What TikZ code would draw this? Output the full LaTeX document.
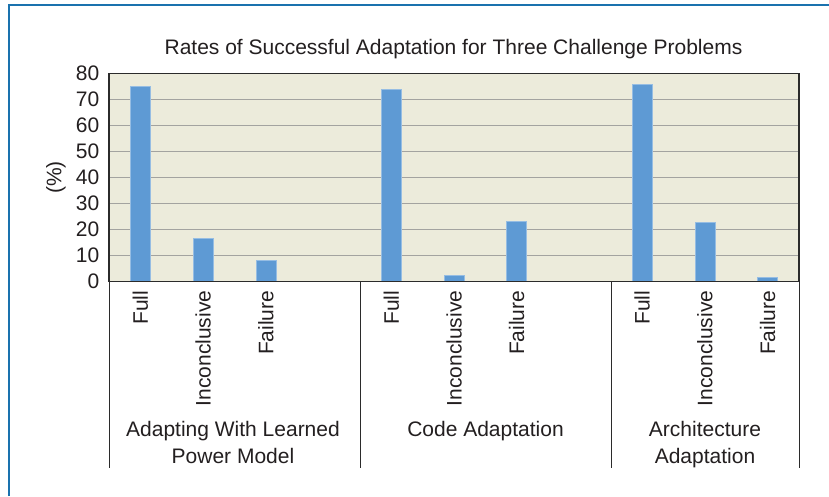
\documentclass[tikz,border=0pt]{standalone}
\usepackage{fontspec}
\setmainfont{Liberation Sans}
\definecolor{frameblue}{HTML}{1A72AE}
\definecolor{plotbg}{HTML}{ECEBDB}
\definecolor{gridgray}{HTML}{A3A3A0}
\definecolor{barblue}{HTML}{5E9AD4}
\definecolor{axisdark}{HTML}{2B2B2B}
\definecolor{txt}{HTML}{231F20}
\begin{document}
\begin{tikzpicture}[x=1pt,y=-1pt,
  lbl/.style={font=\fontsize{21}{26.6}\selectfont, text=txt, inner sep=0pt},
  ticklbl/.style={lbl, anchor=east},
  catlbl/.style={lbl, rotate=90, anchor=east},
  grplbl/.style={lbl, align=center, anchor=north},
  gridline/.style={gridgray, line width=1.3pt},
  bar/.style={fill=barblue, draw=barblue!65!white, line width=0.6pt},
  axisline/.style={axisdark, line width=1.5pt},
  sepline/.style={axisdark, line width=1pt}]
\useasboundingbox (0,0) rectangle (829,496);
\fill[white] (0,0) rectangle (829,496);
\draw[frameblue, line width=2.5pt] (9,496) -- (9,5) -- (829,5);
% title
\node[lbl, anchor=base] (title) at (453.5,54.3) {Rates of Successful Adaptation for Three Challenge Problems};
% plot area
\fill[plotbg] (109,73.5) rectangle (799,281.5);
\foreach \v in {1,...,7} {
  \draw[gridline] (109,{281.5-26*\v}) -- (799,{281.5-26*\v});
}
% y tick labels
\foreach \v in {0,...,8} {
  \node[ticklbl] (yt\v) at (99.5,{281.5-26*\v}) {\the\numexpr\v*10\relax};
}
\node[lbl, rotate=90] (ylab) at (56,177.5) {(\%)};
% bars
\foreach \i/\val in {0/75,1/16.7,2/8.3,4/74,5/2.5,6/23.3,8/76,9/22.6,10/1.5} {
  \pgfmathsetmacro{\cx}{109+62.727*(\i+0.5)}
  \draw[bar] ({\cx-10},281.5) rectangle ({\cx+10},{281.5-2.6*\val});
}
% category labels
\foreach \i/\t in {0/Full,1/Inconclusive,2/Failure,4/Full,5/Inconclusive,6/Failure,8/Full,9/Inconclusive,10/Failure} {
  \pgfmathsetmacro{\cx}{109+62.727*(\i+0.5)}
  \node[catlbl] (cat\i) at (\cx,290.5) {\t};
}
% axes and border
\draw[axisline] (109,281.5) -- (109,73.5) -- (799,73.5) -- (799,281.5);
\draw[axisline] (108.25,281.5) -- (799.75,281.5);
% separators
\foreach \x in {109,360,611,799} {
  \draw[sepline] (\x,281.5) -- (\x,468);
}
% group labels
\node[grplbl] (g1) at (233,421.3) {Adapting With Learned\\Power Model};
\node[grplbl] (g2) at (485.5,421.3) {Code Adaptation};
\node[grplbl] (g3) at (705,421.3) {Architecture\\Adaptation};
\end{tikzpicture}
\end{document}
